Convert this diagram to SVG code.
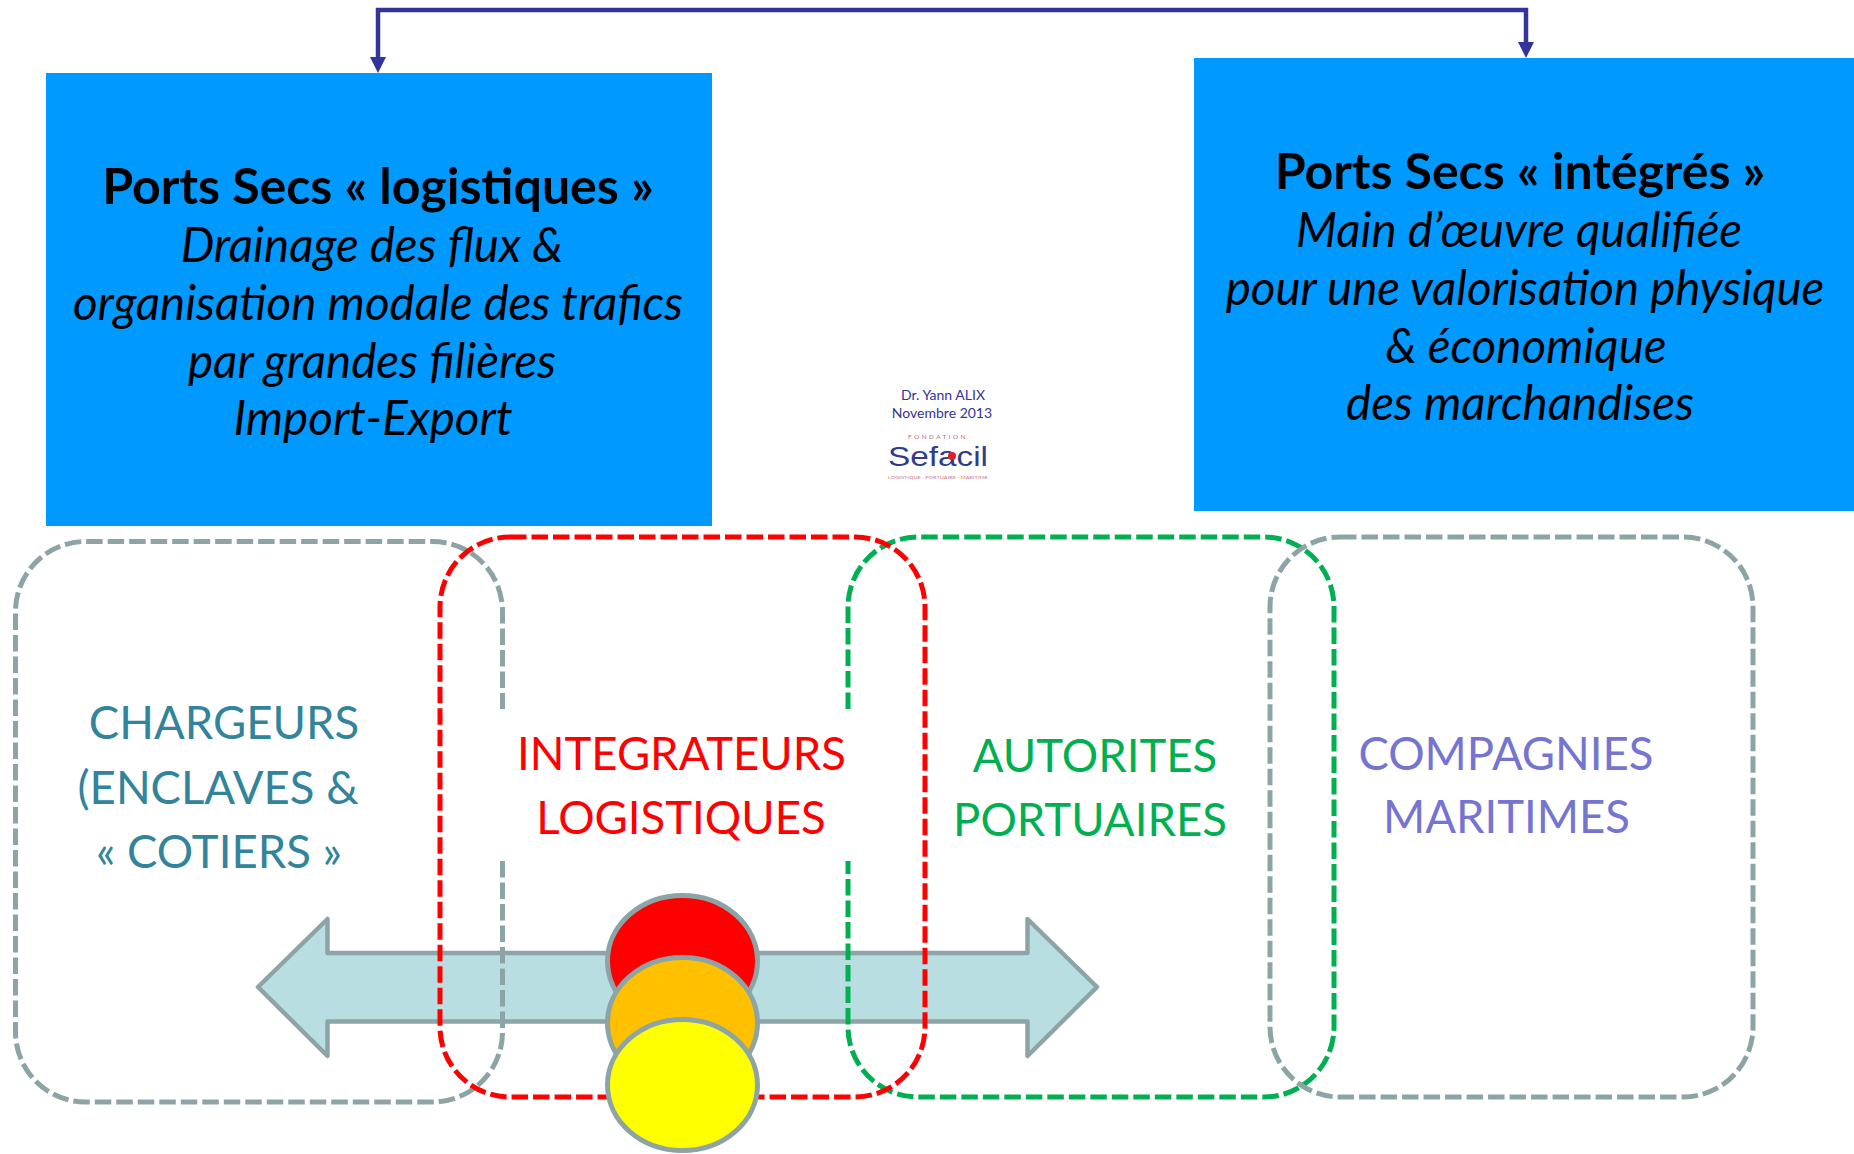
<svg xmlns="http://www.w3.org/2000/svg" width="1854" height="1154" viewBox="0 0 1854 1154">
<style>
.box{fill:#0099FF}
.t{font-family:Lato,"Liberation Sans",sans-serif;text-anchor:middle}
.b{font-weight:bold;font-size:50px;fill:#000}
.i{font-style:italic;font-size:47.5px;fill:#000}
.lbl{font-size:45.5px}
.dash{fill:none;stroke-width:5;stroke-dasharray:16.5 5}
.circ{stroke:#8DA4A7;stroke-width:5}
</style>
<defs>
<marker id="ah" viewBox="0 0 16 16" refX="8" refY="8" markerWidth="16" markerHeight="16" markerUnits="userSpaceOnUse" orient="auto-start-reverse">
<path d="M0,0 L16,8 L0,16 z" fill="#333399"/>
</marker>
</defs>
<rect width="1854" height="1154" fill="#fff"/>

<g id="connectors">
<path d="M378,65 V10 H1526 V50" fill="none" stroke="#333399" stroke-width="4.5" marker-start="url(#ah)" marker-end="url(#ah)"/>
</g>

<g id="node-ports-logistiques">
<rect class="box" x="46" y="73" width="666" height="453"/>
<text class="t b" x="378" y="204">Ports Secs « logistiques »</text>
<text class="t i" x="372" y="262">Drainage des flux &amp;</text>
<text class="t i" x="378" y="320">organisation modale des trafics</text>
<text class="t i" x="372" y="378">par grandes filières</text>
<text class="t i" x="373" y="435">Import-Export</text>
</g>

<g id="node-ports-integres">
<rect class="box" x="1194" y="58" width="660" height="453"/>
<text class="t b" x="1520" y="189">Ports Secs « intégrés »</text>
<text class="t i" x="1519" y="247">Main d’œuvre qualifiée</text>
<text class="t i" x="1525" y="305">pour une valorisation physique</text>
<text class="t i" x="1526" y="363">&amp; économique</text>
<text class="t i" x="1520" y="420">des marchandises</text>
</g>

<g id="author">
<text class="t" x="943" y="400" font-size="14" fill="#333399">Dr. Yann ALIX</text>
<text class="t" x="942" y="418" font-size="14" fill="#333399">Novembre 2013</text>
<text class="t" x="938" y="438.5" font-size="6.5" letter-spacing="2.4" fill="#C86A6A">FONDATION</text>
<text x="938" y="466" font-family="'Liberation Sans',sans-serif" text-anchor="middle" font-size="28" fill="#2E3B8E" textLength="100" lengthAdjust="spacingAndGlyphs">Sefacil</text>
<circle cx="952" cy="456" r="4" fill="#E02020"/>
<text class="t" x="938" y="478.5" font-size="4.5" fill="#D07878" textLength="100" lengthAdjust="spacingAndGlyphs">LOGISTIQUE · PORTUAIRE · MARITIME</text>
</g>

<g id="arrow">
<path d="M258,987 L327.5,919 V953 H1027.5 V919 L1097,987 L1027.5,1056 V1021.5 H327.5 V1056 Z" fill="#B8DEE2" stroke="#8DA4A7" stroke-width="4.5" stroke-linejoin="round"/>
</g>

<g id="node-chargeurs">
<path class="dash" stroke="#8DA4A7" d="M502.5,861 V1032 A70,70 0 0 1 432.5,1102 H85.5 A70,70 0 0 1 15.5,1032 V611.5 A70,70 0 0 1 85.5,541.5 H432.5 A70,70 0 0 1 502.5,611.5 V709"/>
<text class="t lbl" fill="#31849B" x="224" y="739">CHARGEURS</text>
<text class="t lbl" fill="#31849B" x="218" y="804">(ENCLAVES &amp;</text>
<text class="t lbl" fill="#31849B" x="219" y="868">« COTIERS »</text>
</g>

<g id="node-autorites">
<path class="dash" stroke="#00B050" d="M848,709 V607 A70,70 0 0 1 918,537 H1264 A70,70 0 0 1 1334,607 V1027 A70,70 0 0 1 1264,1097 H918 A70,70 0 0 1 848,1027 V861"/>
<text class="t lbl" fill="#00B050" x="1095" y="772">AUTORITES</text>
<text class="t lbl" fill="#00B050" x="1090" y="836">PORTUAIRES</text>
</g>

<g id="node-integrateurs">
<rect class="dash" stroke="#FF0000" x="440" y="537" width="485" height="560" rx="70" ry="70"/>
<text class="t lbl" fill="#FF0000" x="681.5" y="770">INTEGRATEURS</text>
<text class="t lbl" fill="#FF0000" x="681" y="834">LOGISTIQUES</text>
</g>

<g id="node-compagnies">
<rect class="dash" stroke="#8DA4A7" x="1270" y="537" width="483" height="560" rx="70" ry="70"/>
<text class="t lbl" fill="#7575D1" x="1506" y="770">COMPAGNIES</text>
<text class="t lbl" fill="#7575D1" x="1506.5" y="833">MARITIMES</text>
</g>

<g id="traffic-light">
<ellipse class="circ" cx="682.5" cy="961" rx="75" ry="65.5" fill="#FF0000"/>
<ellipse class="circ" cx="682.5" cy="1023" rx="75" ry="65.5" fill="#FFC000"/>
<ellipse class="circ" cx="682.5" cy="1085" rx="75" ry="65.5" fill="#FFFF00"/>
</g>
</svg>
